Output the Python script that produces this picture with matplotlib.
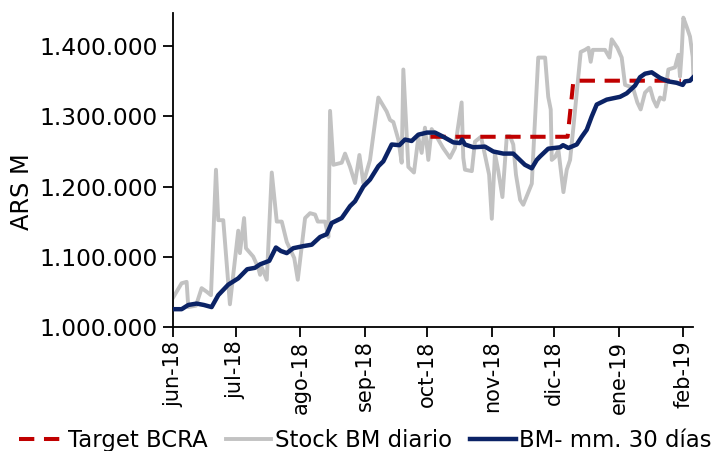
import matplotlib
matplotlib.use("Agg")
import matplotlib.pyplot as plt
import matplotlib.dates as mdates
from matplotlib.ticker import FuncFormatter
from datetime import datetime
import numpy as np

# ---- data (days since 2018-06-01, values in ARS M) ----
stock_dias = [0, 4.0, 6.4, 7.2, 10.9, 13.6, 16.0, 18.1, 20.5, 21.6, 24.0, 27.2, 31.2, 32.0, 34.0, 34.9,
              38.4, 40.8, 41.7, 42.6, 44.9, 47.3, 49.7, 52.1, 54.5, 58.1, 59.8, 63.3, 65.7, 68.1, 69.4,
              72.9, 74.5, 75.3, 76.9, 80.9, 82.5, 84.9, 87.3, 89.4, 91.3, 94.5, 98.5, 102.5, 104.1, 105.7,
              108.1, 109.7, 110.5, 112.9, 115.6, 117.7, 119.3, 120.9, 122.5, 124.1, 126.5, 129.6, 132.9,
              135.3, 138.5, 139.3, 140.1, 143.4, 144.9, 147.8, 149.7, 151.7, 153.0, 154.5, 156.0, 158.1,
              160.2, 161.7, 163.3, 164.6, 166.6, 168.1, 172.2, 173.5, 175.3, 178.6, 180.1, 181.3, 181.8,
              183.4, 185.0, 187.4, 189.0, 190.6, 192.2, 193.8, 195.7, 197.8, 199.4, 200.5, 201.5, 203.7,
              207.4, 209.5, 210.6, 213.3, 215.4, 217.0, 220.8, 222.9, 224.5, 226.6, 229.0, 230.6, 232.2,
              233.8, 235.7, 237.8, 241.0, 242.6, 243.4, 244.2, 245.0, 246.6, 248.2, 249.5, 249.8]
stock_valor = [1042, 1062, 1064, 1028, 1030, 1055, 1050, 1045, 1224, 1152, 1152, 1032, 1137, 1105, 1155, 1112,
               1100, 1084, 1074, 1084, 1067, 1220, 1150, 1150, 1121, 1098, 1067, 1155, 1162, 1160, 1150,
               1150, 1128, 1308, 1231, 1234, 1247, 1228, 1205, 1245, 1205, 1238, 1327, 1307, 1295, 1292,
               1267, 1234, 1367, 1228, 1220, 1270, 1248, 1284, 1238, 1282, 1271, 1255, 1241,
               1255, 1320, 1241, 1224, 1222, 1264, 1271, 1245, 1217, 1154, 1247, 1224, 1185,
               1272, 1272, 1260, 1217, 1181, 1174, 1204, 1281, 1384, 1384, 1328, 1310, 1238,
               1242, 1252, 1192, 1224, 1238, 1285, 1334, 1392, 1395, 1398, 1378, 1395, 1395,
               1395, 1384, 1410, 1398, 1384, 1345, 1341, 1320, 1310, 1334, 1341, 1324, 1314,
               1327, 1324, 1367, 1370, 1388, 1357, 1391, 1441, 1428, 1414, 1385, 1357]

mm30_dias = [0, 4.0, 7.2, 11.2, 14.7, 18.4, 21.6, 26.4, 31.2, 35.5, 39.2, 41.7, 46.1, 49.3, 51.7, 54.5,
             57.6, 62.5, 66.5, 70.5, 73.7, 76.1, 80.9, 84.9, 87.3, 91.3, 94.5, 98.5, 100.9, 104.9, 108.6,
             111.3, 114.5, 117.7, 121.9, 125.7, 129.7, 134.5, 137.7, 138.7, 140.1, 144.1, 149.7, 153.7,
             158.5, 163.3, 168.9, 172.2, 174.6, 176.2, 180.1, 185.8, 187.2, 189.8, 193.8, 196.2, 198.6,
             201.0, 203.4, 208.2, 214.6, 217.8, 221.8, 224.2, 226.6, 229.8, 233.8, 237.8, 241.8, 244.7,
             245.8, 248.2, 249.8]
mm30_valor = [1025, 1025, 1031, 1033, 1031, 1028, 1045, 1060, 1069, 1082, 1084, 1089, 1094, 1113, 1108, 1105,
              1112, 1115, 1117, 1128, 1132, 1148, 1155, 1172, 1179, 1200, 1210, 1229, 1236, 1260, 1259,
              1267, 1265, 1274, 1277, 1277, 1271, 1263, 1262, 1267, 1260, 1256, 1257, 1250,
              1247, 1247, 1231, 1226, 1238, 1243, 1254, 1256, 1259, 1255, 1260, 1271, 1281,
              1300, 1317, 1324, 1328, 1333, 1344, 1356, 1361, 1363, 1355, 1350, 1348, 1345,
              1350, 1351, 1356]

target_dias = [123.5, 189.4, 192.2, 243.8]
target_valor = [1271, 1271, 1351, 1351]

meses = ["jun-18", "jul-18", "ago-18", "sep-18", "oct-18", "nov-18", "dic-18", "ene-19", "feb-19"]
meses_fecha = [datetime(2018, 6, 1), datetime(2018, 7, 1), datetime(2018, 8, 1), datetime(2018, 9, 1),
               datetime(2018, 10, 1), datetime(2018, 11, 1), datetime(2018, 12, 1), datetime(2019, 1, 1),
               datetime(2019, 2, 1)]
yticks = [1000000, 1100000, 1200000, 1300000, 1400000]

# ---- plot ----
plt.rcParams['font.family'] = ['DejaVu Sans']
FS_X = 15
FS_Y = 16.8
FS_L = 16.4

t0 = mdates.date2num(datetime(2018, 6, 1))
def xs(d):
    return t0 + np.asarray(d, dtype=float)
def ys(v):
    return np.asarray(v, dtype=float) * 1000

fig = plt.figure(figsize=(7.26, 4.51), dpi=100)
ax = fig.add_axes([0.2387, 0.2756, 0.955 - 0.2387, 0.9718 - 0.2756])

l1, = ax.plot(xs(target_dias), ys(target_valor), color='#C00000', lw=2.9, dashes=(3.8, 2.4),
              label='Target BCRA', zorder=2)
l2, = ax.plot(xs(stock_dias), ys(stock_valor), color='#C2C2C2', lw=2.8, label='Stock BM diario',
              zorder=1, solid_joinstyle='round')
l3, = ax.plot(xs(mm30_dias), ys(mm30_valor), color='#0B2366', lw=3.2, label='BM- mm. 30 días',
              zorder=3, solid_joinstyle='round')

ax.set_xlim(t0, t0 + 249.8)
ax.set_ylim(1000000, 1448000)
ax.set_yticks(yticks)
ax.yaxis.set_major_formatter(FuncFormatter(lambda v, p: f"{v:,.0f}".replace(",", ".")))
ax.set_xticks([mdates.date2num(d) for d in meses_fecha])
ax.set_xticklabels(meses, rotation=90, fontsize=FS_X)
ax.tick_params(axis='y', labelsize=FS_Y, length=7, width=1.3, direction='out', pad=4)
ax.tick_params(axis='x', length=7, width=1.3, direction='out', pad=3)
for s in ['top', 'right']:
    ax.spines[s].set_visible(False)
for s in ['left', 'bottom']:
    ax.spines[s].set_linewidth(1.3)
ax.set_ylabel('ARS M', fontsize=FS_Y + 0.5)
ax.yaxis.set_label_coords(-0.268, 0.43)

fig.legend(handles=[l1, l2, l3], loc='center', bbox_to_anchor=(0.503, 0.024), ncol=3, frameon=False,
           fontsize=FS_L, handlelength=2.0, handletextpad=0.15, columnspacing=0.8, borderpad=0)

fig.savefig('out.png', dpi=100)
